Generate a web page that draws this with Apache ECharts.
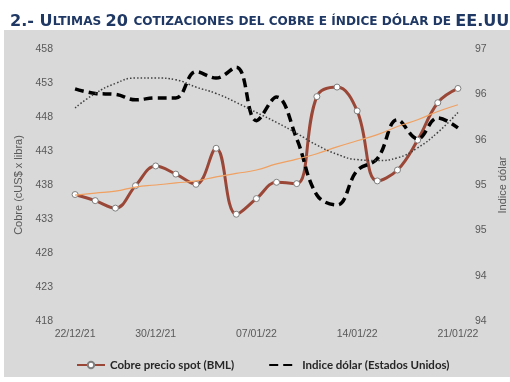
<!DOCTYPE html>
<html>
<head>
<meta charset="utf-8">
<script src="https://cdn.jsdelivr.net/npm/echarts@6/dist/echarts.min.js"></script>
<style>
html,body{margin:0;padding:0;background:#ffffff;}
#chart{width:510px;height:382px;}
</style>
</head>
<body>
<div id="chart"></div>
<script>
// ---- data ----
var categories = ['22/12/21','23/12/21','24/12/21','29/12/21','30/12/21','31/12/21','04/01/22','05/01/22','06/01/22','07/01/22',
                  '10/01/22','11/01/22','12/01/22','13/01/22','14/01/22','17/01/22','18/01/22','19/01/22','20/01/22','21/01/22'];
var shownDateIdx = [0, 4, 9, 14, 19];

var copperSpot = [436.6, 435.7, 434.6, 437.9, 440.8, 439.6, 438.1, 443.4, 433.7, 436.0,
                  438.4, 438.2, 451.0, 452.4, 448.9, 438.6, 440.2, 444.6, 450.1, 452.2];
var copperTrend = [436.5, 436.8, 437.1, 437.7, 438.0, 438.3, 438.6, 439.2, 439.7, 440.2,
                   441.1, 441.8, 442.6, 443.6, 444.5, 445.4, 446.6, 447.6, 448.8, 449.8];
var dollarIndex = [96.36, 96.31, 96.30, 96.24, 96.26, 96.26, 96.55, 96.48, 96.60, 96.01,
                   96.27, 95.81, 95.19, 95.08, 95.46, 95.59, 96.02, 95.81, 96.04, 95.93];
var dollarTrend = [96.15, 96.31, 96.42, 96.48, 96.48, 96.46, 96.38, 96.31, 96.21, 96.10,
                   95.99, 95.87, 95.74, 95.64, 95.58, 95.57, 95.60, 95.71, 95.88, 96.10];

var leftTicks = [418, 423, 428, 433, 438, 443, 448, 453, 458];
var rightTickValues = [93.8, 94.3, 94.8, 95.3, 95.8, 96.3, 96.8];
var rightTickLabels = ['94', '94', '95', '95', '96', '96', '97'];

var seriesNames = ['Cobre precio spot (BML)', 'Indice dólar (Estados Unidos)'];
var leftAxisName = 'Cobre (cUS$ x libra)';
var rightAxisName = 'Indice dólar';

// ---- chart ----
var chart = echarts.init(document.getElementById('chart'), null, {renderer: 'canvas'});
var labelFont = 'Liberation Sans';
var option = {
  backgroundColor: 'transparent',
  animation: false,
  graphic: [{
    type: 'rect', left: 4, top: 30, z: -10,
    shape: {width: 506, height: 347},
    style: {fill: '#d9d9d9'}
  }],
  title: {
    left: 5, top: 9,
    text: '{b|2.- U}{s|LTIMAS }{b|20 }{s|COTIZACIONES DEL COBRE E ÍNDICE DÓLAR DE }{b|EE.UU}',
    textStyle: {
      rich: {
        b: {fontFamily: 'DejaVu Sans', fontWeight: 'bold', fontSize: 16.1, color: '#1f3864'},
        s: {fontFamily: 'DejaVu Sans', fontWeight: 'bold', fontSize: 12.1, color: '#1f3864'}
      }
    }
  },
  legend: {
    data: [
      {name: seriesNames[0]},
      {name: seriesNames[1], itemStyle: {opacity: 0}}
    ],
    left: 71, top: 354,
    itemWidth: 28, itemHeight: 8, itemGap: 34,
    textStyle: {fontFamily: 'Lato', fontWeight: 'bold', fontSize: 11.5, color: '#262626'}
  },
  grid: {left: 65, right: 42, top: 49, bottom: 61, containLabel: false, outerBoundsMode: 'none'},
  xAxis: {
    type: 'category',
    data: categories,
    boundaryGap: true,
    axisLine: {show: false},
    axisTick: {show: false},
    axisLabel: {
      interval: function (idx) { return shownDateIdx.indexOf(idx) >= 0; },
      fontFamily: labelFont, fontSize: 10.5, color: '#595959', margin: 8
    }
  },
  yAxis: [{
    type: 'value',
    min: 418, max: 458,
    name: leftAxisName, nameLocation: 'middle', nameGap: 31,
    nameTextStyle: {fontFamily: labelFont, fontSize: 11, color: '#595959'},
    axisLine: {show: false}, axisTick: {show: false},
    splitLine: {show: false},
    axisLabel: {customValues: leftTicks, fontFamily: labelFont, fontSize: 10.5, color: '#595959', margin: 12}
  }, {
    type: 'value',
    min: 93.8, max: 96.8,
    position: 'right',
    name: rightAxisName, nameLocation: 'middle', nameGap: 29, nameRotate: 90,
    nameTextStyle: {fontFamily: labelFont, fontSize: 11, color: '#595959'},
    axisLine: {show: false}, axisTick: {show: false},
    splitLine: {show: false},
    axisLabel: {
      customValues: rightTickValues,
      formatter: function (v) {
        var best = 0;
        for (var i = 1; i < rightTickValues.length; i++) {
          if (Math.abs(rightTickValues[i] - v) < Math.abs(rightTickValues[best] - v)) best = i;
        }
        return rightTickLabels[best];
      },
      fontFamily: labelFont, fontSize: 10.5, color: '#595959', margin: 7
    }
  }],
  series: [{
    name: seriesNames[0],
    type: 'line',
    yAxisIndex: 0,
    data: copperSpot,
    smooth: 0.4,
    symbol: 'circle', symbolSize: 6,
    lineStyle: {color: '#9a4737', width: 3},
    itemStyle: {color: '#ffffff', borderColor: '#7f7f7f', borderWidth: 1},
    z: 2
  }, {
    name: seriesNames[1],
    type: 'line',
    yAxisIndex: 1,
    data: dollarIndex,
    smooth: 0.4,
    showSymbol: false, symbol: 'none',
    lineStyle: {color: '#000000', width: 3.5, type: [9, 5]},
    itemStyle: {color: '#000000'},
    z: 3
  }, {
    name: 'trend-copper',
    type: 'line',
    yAxisIndex: 0,
    data: copperTrend,
    smooth: true,
    symbol: 'none',
    lineStyle: {color: '#f0a060', width: 1.2},
    z: 4
  }, {
    name: 'trend-dollar',
    type: 'line',
    yAxisIndex: 1,
    data: dollarTrend,
    smooth: true,
    symbol: 'none',
    lineStyle: {color: '#404040', width: 1.5, type: [1.5, 2]},
    z: 4
  }]
};
chart.setOption(option);
</script>
</body>
</html>
